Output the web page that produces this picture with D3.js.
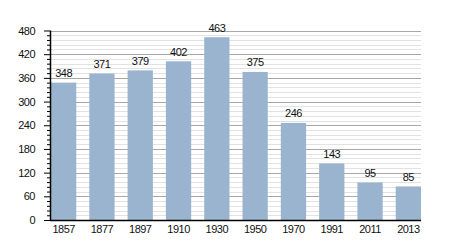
<!DOCTYPE html>
<html><head><meta charset="utf-8">
<script src="https://cdn.jsdelivr.net/npm/d3@7"></script>
<style>body{margin:0;background:#fff;}svg{display:block;}</style>
</head><body>
<svg id="chart" width="450" height="250"></svg>
<script>
const years = ["1857","1877","1897","1910","1930","1950","1970","1991","2011","2013"];
const population = [348,371,379,402,463,375,246,143,95,85];
const majorTicks = [0,60,120,180,240,300,360,420,480];

const svg = d3.select("#chart");
const mLeft = 50, mRight = 421, mTop = 30.5, mBottom = 220;
const x = d3.scaleBand().domain(years).range([51, mRight]).paddingInner(0.34).paddingOuter(0);
const y = d3.scaleLinear().domain([0,480]).range([mBottom, mTop]);
const minorTicks = d3.range(0, 481, 12).filter(v => v % 60 !== 0);

const font = "Liberation Sans, Arial, sans-serif";
const fs = 11, ls = "-0.5px";

// minor grid
svg.append("g").selectAll("line").data(minorTicks).join("line")
  .attr("x1", mLeft).attr("x2", mRight)
  .attr("y1", d => Math.round(y(d)) + 0.5).attr("y2", d => Math.round(y(d)) + 0.5)
  .attr("stroke", "#e2e2e2").attr("stroke-width", 1);
// major grid
svg.append("g").selectAll("line").data(majorTicks.filter(d => d > 0)).join("line")
  .attr("x1", mLeft).attr("x2", mRight)
  .attr("y1", d => Math.round(y(d)) + 0.5).attr("y2", d => Math.round(y(d)) + 0.5)
  .attr("stroke", "#a8a8a8").attr("stroke-width", 1);

// bars
svg.append("g").selectAll("rect").data(population).join("rect")
  .attr("x", (d,i) => x(years[i]))
  .attr("width", x.bandwidth())
  .attr("y", d => y(d))
  .attr("height", d => mBottom - y(d))
  .attr("fill", "#9ab4cf");

// value labels
svg.append("g").selectAll("text").data(population).join("text")
  .attr("x", (d,i) => x(years[i]) + x.bandwidth()/2)
  .attr("y", d => y(d) - 5.5)
  .attr("text-anchor", "middle")
  .attr("font-family", font).attr("font-size", fs).attr("letter-spacing", ls).attr("fill", "#111")
  .text(d => d);

// y axis
const yAxis = svg.append("g").attr("transform", `translate(${mLeft},0)`)
  .call(d3.axisLeft(y).tickValues(majorTicks).tickSize(6).tickPadding(9));
yAxis.select(".domain").remove();
yAxis.selectAll("text").attr("font-family", font).attr("font-size", fs).attr("letter-spacing", ls).attr("fill", "#111");
yAxis.selectAll(".tick line").attr("stroke", "#000");
svg.append("g").attr("transform", `translate(${mLeft},0)`)
  .call(d3.axisLeft(y).tickValues(minorTicks).tickSize(3).tickFormat(""))
  .call(g => g.select(".domain").remove())
  .selectAll(".tick line").attr("stroke", "#000");
svg.append("line").attr("x1", mLeft + 0.5).attr("x2", mLeft + 0.5)
  .attr("y1", mTop).attr("y2", mBottom + 1).attr("stroke", "#000").attr("stroke-width", 1.5);

// x axis
const xAxis = svg.append("g").attr("transform", `translate(0,${mBottom})`)
  .call(d3.axisBottom(x).tickSize(0).tickPadding(5));
xAxis.select(".domain").remove();
xAxis.selectAll("text").attr("font-family", font).attr("font-size", fs).attr("letter-spacing", ls).attr("fill", "#111");
svg.append("line").attr("x1", mLeft).attr("x2", mRight)
  .attr("y1", mBottom + 0.5).attr("y2", mBottom + 0.5).attr("stroke", "#000").attr("stroke-width", 1.5);
</script>
</body></html>
